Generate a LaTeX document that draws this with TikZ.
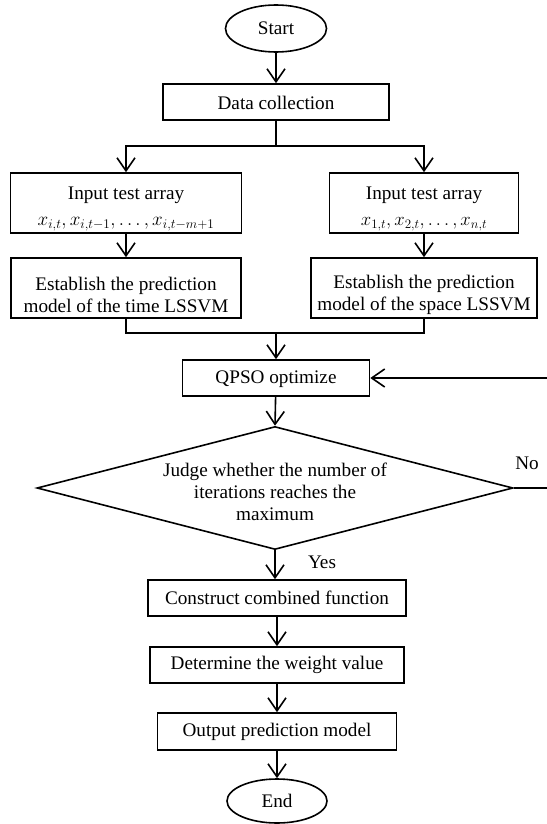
\documentclass[tikz,border=0pt]{standalone}
\usepackage{graphicx}
\usepackage{fontspec}
\setmainfont{Liberation Serif}
\usetikzlibrary{shapes.geometric,arrows.meta}
\newcommand{\dnrule}[1]{\rule{0pt}{#1}}
\begin{document}
\begin{tikzpicture}[x=1pt,y=-1pt,
  every node/.style={font=\fontsize{19.2}{22}\selectfont, inner sep=0pt},
  box/.style={draw, line width=1.6pt, align=center},
  term/.style={draw, ellipse, line width=1.6pt},
  plain/.style={line width=1.6pt},
  arr/.style={line width=1.6pt, -{Straight Barb[length=13pt,width=18pt]}}]
\useasboundingbox (0,0) rectangle (546,824);
\node[term, minimum width=101pt, minimum height=47pt] (start) at (276,28.5) {Start};
\node[box, minimum width=226pt, minimum height=36pt] (data) at (276,102) {\dnrule{16pt}Data collection};
\coordinate (s) at (276,146);
\node[box, minimum width=231pt, minimum height=60pt] (in1) at (126,203) {\dnrule{25pt}Input test array\\[4pt] \scalebox{0.92}{$x_{i,t},x_{i,t-1},\ldots,x_{i,t-m+1}$}};
\node[box, minimum width=189pt, minimum height=60pt] (in2) at (424,203) {\dnrule{25pt}Input test array\\[4pt] \scalebox{0.9}{$x_{1,t},x_{2,t},\ldots,x_{n,t}$}};
\node[box, minimum width=230pt, minimum height=60pt] (est1) at (126,288) {\dnrule{27pt}Establish the prediction\\model of the time LSSVM};
\node[box, minimum width=226pt, minimum height=60pt] (est2) at (424,288) {\dnrule{27pt}Establish the prediction\\model of the space LSSVM};
\coordinate (j) at (276,333);
\node[box, minimum width=187pt, minimum height=36pt] (qpso) at (276,378) {\dnrule{16pt}QPSO optimize};
\node[draw, diamond, line width=1.6pt, minimum width=476pt, minimum height=123pt,
      label={[align=center, yshift=-4pt, font=\fontsize{19.2}{22}\selectfont]center:Judge whether the number of\\iterations reaches the\\maximum}] (dec) at (275,488) {};
\node (no) at (527,463) {No};
\node (yes) at (322,562) {Yes};
\coordinate (fb) at (556,488);
\node[box, minimum width=258pt, minimum height=36pt] (cons) at (277,598) {Construct combined function};
\node[box, minimum width=254pt, minimum height=36pt] (det) at (277,665) {Determine the weight value};
\node[box, minimum width=239pt, minimum height=37pt] (out) at (277,731.5) {Output prediction model};
\node[term, minimum width=100pt, minimum height=44pt] (end) at (277,801) {End};

\draw[arr] (start) -- (data);
\draw[plain] (data.south) -- (s);
\draw[arr] (s) -| (in1.north);
\draw[arr] (s) -| (in2.north);
\draw[arr] (in1) -- (est1);
\draw[arr] (in2) -- (est2);
\draw[plain] (est1.south) |- (j);
\draw[plain] (est2.south) |- (j);
\draw[arr] (j) -- (qpso.north);
\draw[arr] (qpso) -- (dec.north);
\draw[plain] (dec.east) -- (fb);
\draw[arr] (fb) |- (qpso.east);
\draw[arr] (dec.south) -- (cons.north -| dec.south);
\draw[arr] (cons) -- (det);
\draw[arr] (det) -- (out);
\draw[arr] (out) -- (end);
\end{tikzpicture}
\end{document}
